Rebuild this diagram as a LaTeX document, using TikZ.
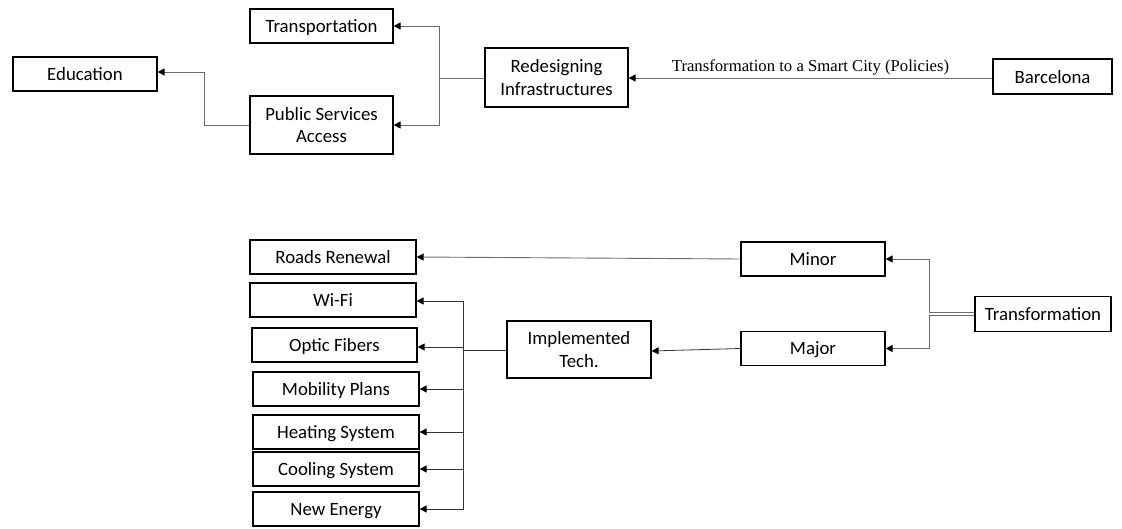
\documentclass[tikz,border=0pt]{standalone}
\usepackage{fontspec}
\setmainfont{Carlito}
\newfontfamily\lblfont{Liberation Serif}
\usetikzlibrary{arrows.meta}
\begin{document}
\begin{tikzpicture}[x=1pt,y=-1pt,
  box/.style={draw=black,line width=1.2pt,inner sep=0pt,align=center,text depth=0pt,
    font=\fontsize{18.8}{22.8}\selectfont},
  arr/.style={draw=gray!85!black,line width=0.9pt,-{Triangle[length=7pt,width=7pt,black]}},
  darr/.style={draw=black!80,line width=0.8pt,-{Triangle[length=7pt,width=7pt,black]}},
  ln/.style={draw=gray!85!black,line width=0.9pt}]
\useasboundingbox (0,0) rectangle (1122,529);
% top
\node[box,minimum width=143pt,minimum height=34pt] (trans) at (321.5,26) {Transportation};
\node[box,minimum width=144pt,minimum height=34pt] (edu) at (85,74) {Education};
\node[box,minimum width=143pt,minimum height=58pt] (psa) at (321.5,125) {Public Services\\Access};
\node[box,minimum width=143pt,minimum height=59pt] (redes) at (556.5,77.5) {Redesigning\\Infrastructures};
\node[box,minimum width=119pt,minimum height=35pt] (barc) at (1052.5,76.5) {Barcelona};
\coordinate (tj) at (439,78);
\coordinate (ej) at (204,125);
\draw[arr] (barc.west |- 0,78) -- node[pos=0.5,above=0pt,font=\lblfont\fontsize{16.7}{20}\selectfont,inner sep=2pt] {Transformation to a Smart City (Policies)} (redes.east |- 0,78);
\draw[ln] (redes.west |- tj) -- (tj);
\draw[arr] (tj) |- (trans.east);
\draw[arr] (tj) |- (psa.east);
\draw[arr] (psa.west) -- (ej) |- (edu.east |- 0,72);
% bottom
\node[box,minimum width=166pt,minimum height=34pt] (roads) at (333,257) {Roads Renewal};
\node[box,minimum width=166pt,minimum height=34pt] (wifi) at (333,300) {Wi-Fi};
\node[box,minimum width=165pt,minimum height=34pt] (optic) at (334.5,345) {Optic Fibers};
\node[box,minimum width=166pt,minimum height=34pt] (mob) at (336,389) {Mobility Plans};
\node[box,minimum width=166pt,minimum height=34pt] (heat) at (336,432) {Heating System};
\node[box,minimum width=166pt,minimum height=34pt] (cool) at (336,469) {Cooling System};
\node[box,minimum width=166pt,minimum height=34pt] (newe) at (336,509) {New Energy};
\node[box,minimum width=144pt,minimum height=57pt] (impl) at (579,349.5) {Implemented\\Tech.};
\node[box,minimum width=144pt,minimum height=34pt] (minor) at (813,259) {Minor};
\node[box,minimum width=144pt,minimum height=34pt] (major) at (813,348.5) {Major};
\node[box,minimum width=136pt,minimum height=35pt] (tform) at (1043,314) {Transformation};
\coordinate (mj) at (929,312);
\coordinate (mj2) at (929,315);
\draw[arr] (tform.west |- mj) -- (mj) |- (minor.east);
\draw[arr] (tform.west |- mj2) -- (mj2) |- (major.east);
\draw[arr] (minor.west) -- (roads.east);
\draw[darr] (major.west) -- (impl.east |- 0,351);
\coordinate (ij) at (463,350);
\draw[darr] (impl.west |- ij) -- (ij) |- (wifi.east |- 0,301);
\draw[darr] (ij) |- (optic.east |- 0,347);
\draw[darr] (ij) |- (mob.east);
\draw[darr] (ij) |- (heat.east);
\draw[darr] (ij) |- (cool.east);
\draw[darr] (ij) |- (newe.east);
\end{tikzpicture}
\end{document}
